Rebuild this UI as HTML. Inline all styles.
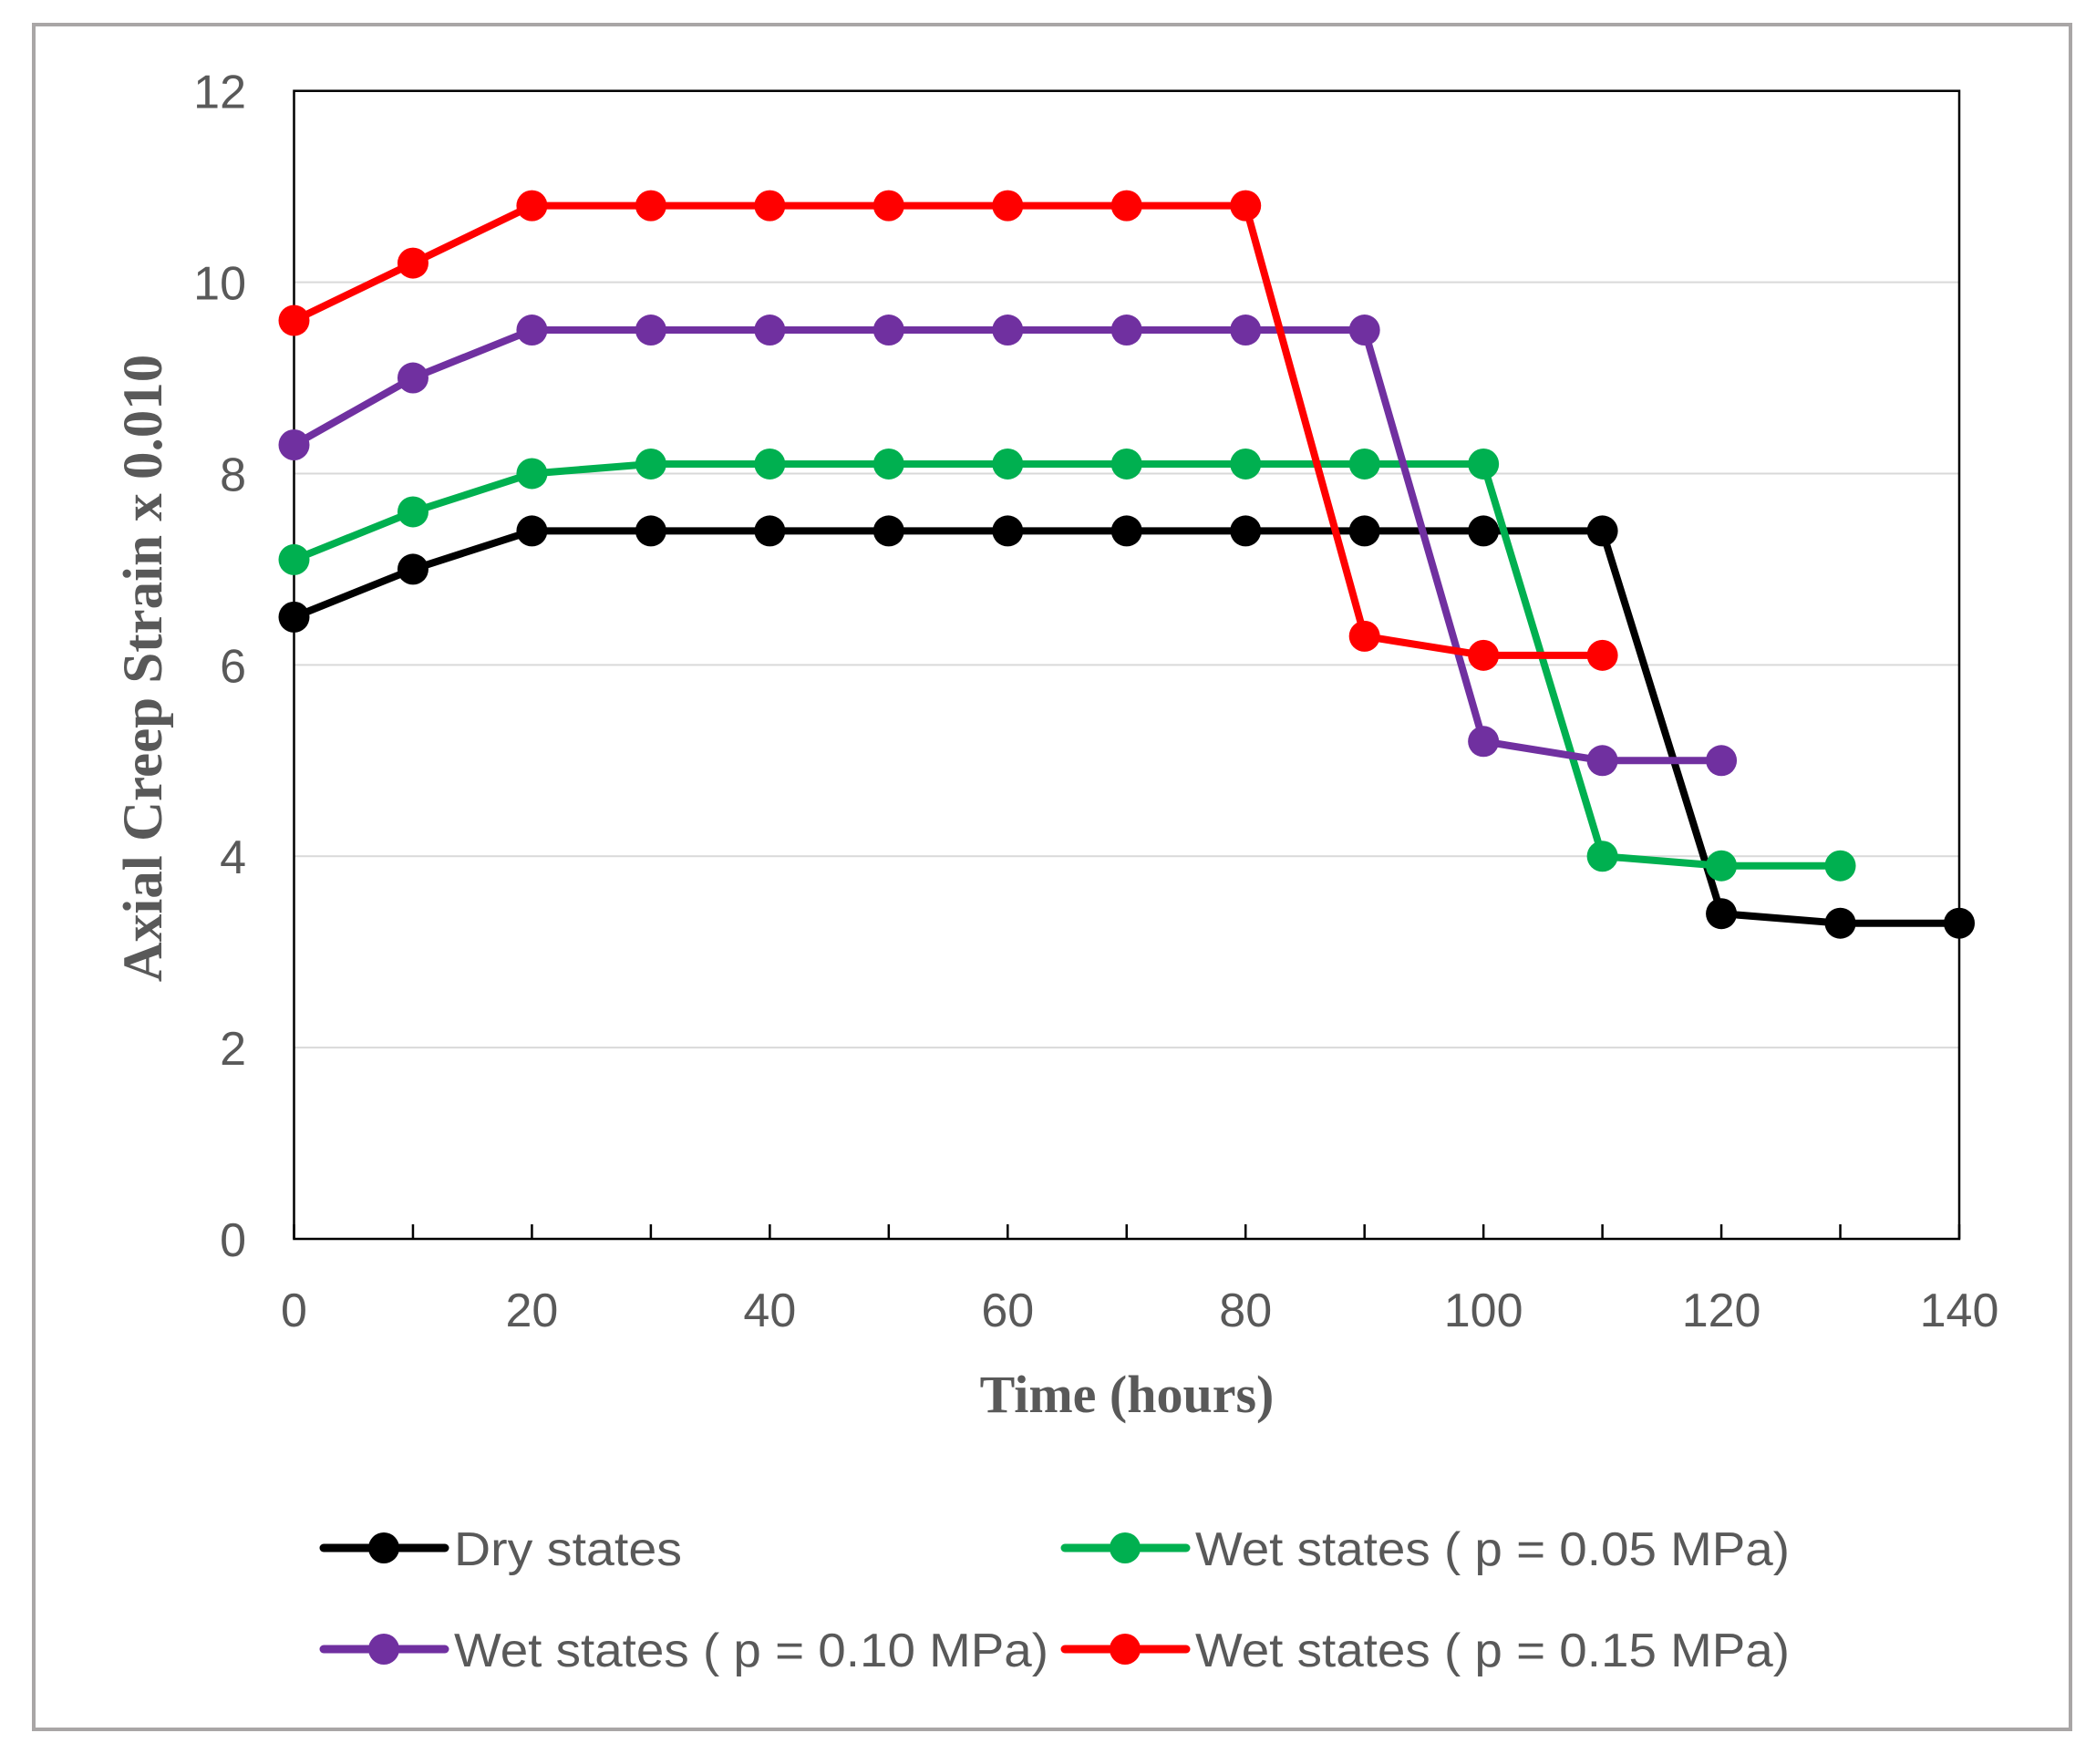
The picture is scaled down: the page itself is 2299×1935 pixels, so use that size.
<!DOCTYPE html>
<html><head><meta charset="utf-8"><style>
html,body{margin:0;padding:0;background:#fff;}
svg{display:block;}
</style></head><body>
<svg id="chart" width="2299" height="1935" xmlns="http://www.w3.org/2000/svg">
<rect x="37" y="27" width="2234" height="1870" fill="#fff" stroke="#a9a6a6" stroke-width="4"/>
<g id="grid"></g>
<g id="axes"></g>
<g id="series"></g>
<text x="1236" y="1549" text-anchor="middle" font-family="Liberation Serif, serif" font-weight="bold" font-size="58" fill="#595959">Time (hours)</text>
<text transform="translate(177,733) rotate(-90)" text-anchor="middle" font-family="Liberation Serif, serif" font-weight="bold" font-size="61" fill="#595959">Axial Creep Strain x 0.010</text>
<g id="legend"></g>
</svg>
<script>
const xTicks = [0,10,20,30,40,50,60,70,80,90,100,110,120,130,140];
const xTickLabels = [0,20,40,60,80,100,120,140];
const yTickLabels = [0,2,4,6,8,10,12];
const seriesNames = ["Dry states","Wet states ( p = 0.05 MPa)","Wet states ( p = 0.10 MPa)","Wet states ( p = 0.15 MPa)"];
const seriesColors = ["#000000","#00b050","#7030a0","#ff0000"];
const dryX = [0,10,20,30,40,50,60,70,80,90,100,110,120,130,140];
const dryY = [6.5,7.0,7.4,7.4,7.4,7.4,7.4,7.4,7.4,7.4,7.4,7.4,3.4,3.3,3.3];
const wet05X = [0,10,20,30,40,50,60,70,80,90,100,110,120,130];
const wet05Y = [7.1,7.6,8.0,8.1,8.1,8.1,8.1,8.1,8.1,8.1,8.1,4.0,3.9,3.9];
const wet10X = [0,10,20,30,40,50,60,70,80,90,100,110,120];
const wet10Y = [8.3,9.0,9.5,9.5,9.5,9.5,9.5,9.5,9.5,9.5,5.2,5.0,5.0];
const wet15X = [0,10,20,30,40,50,60,70,80,90,100,110];
const wet15Y = [9.6,10.2,10.8,10.8,10.8,10.8,10.8,10.8,10.8,6.3,6.1,6.1];

const NS="http://www.w3.org/2000/svg";
const X0=322.5,X1=2149,Y0=1359,Y1=99.7;
const xs=v=>X0+(v-0)/(140-0)*(X1-X0);
const ys=v=>Y0-(v-0)/(12-0)*(Y0-Y1);
function mk(tag,attrs,parent){const e=document.createElementNS(NS,tag);for(const k in attrs)e.setAttribute(k,attrs[k]);parent.appendChild(e);return e;}
const grid=document.getElementById('grid'),axes=document.getElementById('axes'),ser=document.getElementById('series'),leg=document.getElementById('legend');
yTickLabels.forEach(v=>{
  if(v>0&&v<12){const l=mk('line',{x1:X0,x2:X1,y1:ys(v),y2:ys(v),stroke:'#d9d9d9','stroke-width':2},grid);
  
  }
  const t=mk('text',{x:270,y:ys(v)+19,'text-anchor':'end','font-family':'Liberation Sans, sans-serif','font-size':52,fill:'#595959'},axes);
  t.textContent=v;
  
  
});
const frame=mk('rect',{x:X0,y:Y1,width:X1-X0,height:Y0-Y1,fill:'none',stroke:'#000','stroke-width':2.5},axes);


xTicks.forEach(v=>{
  const l=mk('line',{x1:xs(v),x2:xs(v),y1:Y0,y2:Y0-16,stroke:'#000','stroke-width':2.5},axes);
  
  
});
xTickLabels.forEach(v=>{
  const t=mk('text',{x:xs(v),y:1455,'text-anchor':'middle','font-family':'Liberation Sans, sans-serif','font-size':52,fill:'#595959'},axes);
  t.textContent=v;
  
  
});
const allX=[dryX,wet05X,wet10X,wet15X],allY=[dryY,wet05Y,wet10Y,wet15Y];
const keys=['dry','wet-005','wet-010','wet-015'];
allX.forEach((xa,i)=>{
  const g=mk('g',{},ser);
  
  
  const p=mk('polyline',{points:xa.map((x,j)=>xs(x)+','+ys(allY[i][j])).join(' '),fill:'none',stroke:seriesColors[i],'stroke-width':8,'stroke-linejoin':'round'},g);
  
  
  xa.forEach((x,j)=>{
    const c=mk('circle',{cx:xs(x),cy:ys(allY[i][j]),r:17,fill:seriesColors[i]},g);
    
    
  });
});
const legPos=[[355,1698],[1168,1698],[355,1809],[1168,1809]];
seriesNames.forEach((n,i)=>{
  const [lx,ly]=legPos[i];
  const g=mk('g',{},leg);
  
  
  mk('line',{x1:lx,x2:lx+133,y1:ly,y2:ly,stroke:seriesColors[i],'stroke-width':9,'stroke-linecap':'round'},g);
  mk('circle',{cx:lx+66,cy:ly,r:17,fill:seriesColors[i]},g);
  const t=mk('text',{x:lx+143,y:ly+19,'font-family':'Liberation Sans, sans-serif','font-size':52,fill:'#595959'},g);
  t.textContent=n;
  if(i>0){t.setAttribute('textLength',652);t.setAttribute('lengthAdjust','spacingAndGlyphs');}
  else{t.setAttribute('textLength',250);t.setAttribute('lengthAdjust','spacingAndGlyphs');}
});
</script>
</body></html>
